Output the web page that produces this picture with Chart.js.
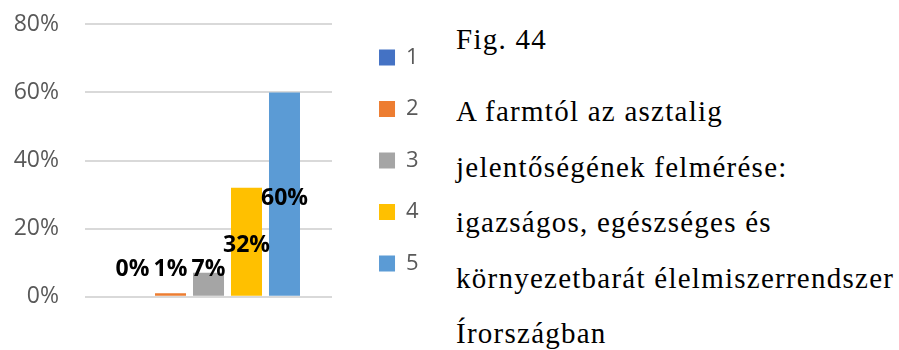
<!DOCTYPE html>
<html>
<head>
<meta charset="utf-8">
<script src="https://cdn.jsdelivr.net/npm/chart.js@4"></script>
<style>
  html, body { margin: 0; padding: 0; background: #ffffff; width: 899px; height: 350px; overflow: hidden; }
  #wrap { position: relative; width: 899px; height: 350px; }
  #chart { position: absolute; left: 0; top: 0; }
  .cap {
    position: absolute; left: 456px;
    font-family: "Liberation Serif", "Times New Roman", serif;
    font-size: 29px; letter-spacing: 1.25px; line-height: 55.5px;
    color: #000000; white-space: nowrap;
  }
</style>
</head>
<body>
<div id="wrap">
  <canvas id="chart" width="440" height="350"></canvas>
  <div class="cap" style="top:11.5px">Fig. 44</div>
  <div class="cap" style="top:84px">A farmtól az asztalig<br>jelentőségének felmérése:<br>igazságos, egészséges és<br>környezetbarát élelmiszerrendszer<br>Írországban</div>
</div>
<script>
// Rating scale answers (1 = lowest, 5 = highest) and their share of respondents, in %
const categories = [''];
const seriesNames = ['1', '2', '3', '4', '5'];
const shares = [0, 1, 7, 32, 60];
const tickValues = [0, 20, 40, 60, 80];

const seriesColors = ['#4472C4', '#ED7D31', '#A5A5A5', '#FFC000', '#5B9BD5'];

// Bold percentage labels: centred in the bar, lifted above the baseline for short bars
const valueLabels = {
  id: 'valueLabels',
  afterDatasetsDraw(chart) {
    const { ctx } = chart;
    const base = chart.scales.y.getPixelForValue(0);
    ctx.save();
    ctx.font = 'bold 23px "Open Sans"';
    ctx.fillStyle = '#000000';
    ctx.textAlign = 'center';
    ctx.textBaseline = 'middle';
    chart.data.datasets.forEach((ds, i) => {
      const bar = chart.getDatasetMeta(i).data[0];
      const mid = (bar.y + bar.base) / 2 + 4;
      const yPos = Math.min(mid, base - 27);
      ctx.fillText(ds.data[0] + '%', bar.x, yPos);
    });
    ctx.restore();
  }
};

// Hidden spacer axes: they only reserve room around the plot area
const spacer = (size) => ({
  display: false,
  afterFit: (a) => {
    if (a.isHorizontal()) { a.height = size; } else { a.width = size; }
    a.paddingTop = 0; a.paddingBottom = 0; a.paddingLeft = 0; a.paddingRight = 0;
  }
});

new Chart(document.getElementById('chart'), {
  type: 'bar',
  data: {
    labels: categories,
    datasets: seriesNames.map((name, i) => ({
      label: name,
      data: [shares[i]],
      backgroundColor: seriesColors[i],
      borderWidth: 0,
      categoryPercentage: 0.769,
      barPercentage: 0.816
    }))
  },
  options: {
    responsive: false,
    animation: false,
    layout: { padding: { top: 0, bottom: 29, left: 0, right: 11.4 } },
    scales: {
      x: Object.assign({ type: 'category', position: 'bottom' }, spacer(24.3)),
      xTop: Object.assign({ type: 'category', axis: 'x', position: 'top' }, spacer(24.3)),
      y: {
        min: 0, max: 80,
        afterBuildTicks: (a) => { a.ticks = tickValues.map(v => ({ value: v })); },
        ticks: {
          padding: 26,
          color: '#595959',
          font: { family: 'Open Sans', size: 23 },
          callback: (v) => v + '%'
        },
        grid: { color: '#d9d9d9', lineWidth: 2, drawTicks: false },
        border: { display: false },
        afterFit: (a) => { a.width = 85; a.paddingTop = 0; a.paddingBottom = 0; }
      },
      yGap: Object.assign({ type: 'linear', axis: 'y', position: 'right' }, spacer(17.5))
    },
    plugins: {
      legend: {
        position: 'right',
        align: 'center',
        labels: {
          boxWidth: 16,
          boxHeight: 16,
          padding: 29.5,
          color: '#595959',
          font: { family: 'Open Sans', size: 22 }
        }
      },
      tooltip: { enabled: false }
    }
  },
  plugins: [valueLabels]
});
</script>
</body>
</html>
